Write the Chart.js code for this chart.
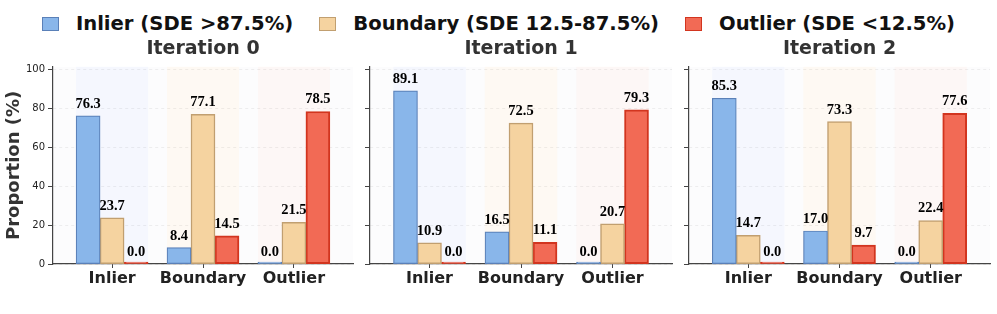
<!DOCTYPE html>
<html>
<head>
<meta charset="utf-8">
<script src="https://cdn.jsdelivr.net/npm/chart.js@4.4.1/dist/chart.umd.min.js"></script>
<style>
  html, body { margin: 0; padding: 0; background: #ffffff; }
  body { width: 997px; height: 314px; position: relative; overflow: hidden; font-family: 'DejaVu Sans', sans-serif; }
  .legend { position: absolute; top: 12px; left: 0; width: 997px; display: flex; justify-content: center; align-items: center; }
  .legend-item { display: flex; align-items: center; margin: 0 13px; }
  .legend-box { width: 15px; height: 12px; margin-right: 17px; }
  .legend-text { font-weight: bold; font-size: 19.6px; color: #111; white-space: nowrap; }
  .panel { position: absolute; top: 36px; height: 278px; }
</style>
</head>
<body>
<div class="legend" id="legend"></div>
<div class="panel" style="left:0px;width:360px"><canvas id="c0"></canvas></div>
<div class="panel" style="left:355px;width:325px"><canvas id="c1"></canvas></div>
<div class="panel" style="left:674px;width:323px"><canvas id="c2"></canvas></div>
<script>
const categories = ['Inlier', 'Boundary', 'Outlier'];
const seriesLabels = ['Inlier (SDE >87.5%)', 'Boundary (SDE 12.5-87.5%)', 'Outlier (SDE <12.5%)'];
const iterations = ['Iteration 0', 'Iteration 1', 'Iteration 2'];
const yTicks = [0, 20, 40, 60, 80, 100];

// one row per iteration, one value per true-category group
const inlierValues = [
    [76.3, 8.4, 0.0],
    [89.1, 16.5, 0.0],
    [85.3, 17.0, 0.0]
];
const boundaryValues = [
    [23.7, 77.1, 21.5],
    [10.9, 72.5, 20.7],
    [14.7, 73.3, 22.4]
];
const outlierValues = [
    [0.0, 14.5, 78.5],
    [0.0, 11.1, 79.3],
    [0.0, 9.7, 77.6]
];

const fills = ['#89b6ea', '#f5d3a0', '#f26a55'];
const borders = ['#5a80b8', '#c19f70', '#d2351f'];
const borderWidths = [1.2, 1.5, 2];
const bandColors = ['#f5f7fe', '#fef9f3', '#fdf7f6'];

Chart.defaults.font.family = "'DejaVu Sans', sans-serif";
Chart.defaults.animation = false;

// html legend
const legendEl = document.getElementById('legend');
seriesLabels.forEach((label, i) => {
    const item = document.createElement('div');
    item.className = 'legend-item';
    item.innerHTML = `<span class="legend-box" style="background:${fills[i]};border:1.5px solid ${borders[i]}"></span><span class="legend-text">${label}</span>`;
    legendEl.appendChild(item);
});

const bandPlugin = {
    id: 'bands',
    beforeDraw(chart) {
        const { ctx, chartArea, scales } = chart;
        ctx.save();
        ctx.fillStyle = '#fcfcfd';
        ctx.fillRect(chartArea.left, chartArea.top, chartArea.right - chartArea.left, chartArea.bottom - chartArea.top);
        categories.forEach((c, i) => {
            const x0 = scales.x.getPixelForValue(i - 0.396);
            const x1 = scales.x.getPixelForValue(i + 0.396);
            ctx.fillStyle = bandColors[i];
            ctx.fillRect(x0, chartArea.top, x1 - x0, chartArea.bottom - chartArea.top);
        });
        ctx.restore();
    }
};

const valueLabelPlugin = {
    id: 'valueLabels',
    afterDatasetsDraw(chart) {
        const { ctx, scales } = chart;
        ctx.save();
        ctx.font = "bold 14.5px 'Liberation Serif', 'Times New Roman', serif";
        ctx.fillStyle = '#000';
        ctx.textAlign = 'center';
        ctx.textBaseline = 'alphabetic';
        chart.data.datasets.forEach((ds, di) => {
            const meta = chart.getDatasetMeta(di);
            meta.data.forEach((bar, i) => {
                const v = ds.data[i].y;
                const y = scales.y.getPixelForValue(v);
                ctx.fillText(v.toFixed(1), bar.x, y - 8);
            });
        });
        ctx.restore();
    }
};

function toPoints(arr) {
    return arr.map((v, i) => ({ x: i, y: v }));
}

function drawPanel(canvasId, k) {
    const first = k === 0;
    const rightPad = [7, 8, 7][k];
    const series = [inlierValues[k], boundaryValues[k], outlierValues[k]];
    new Chart(document.getElementById(canvasId).getContext('2d'), {
        type: 'bar',
        data: {
            datasets: series.map((vals, i) => ({
                label: seriesLabels[i],
                data: toPoints(vals),
                backgroundColor: fills[i],
                borderColor: borders[i],
                borderWidth: borderWidths[i],
                borderSkipped: false,
                barThickness: 24,
                minBarLength: 2
            }))
        },
        options: {
            responsive: true,
            maintainAspectRatio: false,
            devicePixelRatio: 1,
            layout: { padding: { left: 0, right: rightPad, top: 0, bottom: 0 } },
            plugins: {
                legend: { display: false },
                tooltip: { enabled: false },
                title: {
                    display: true,
                    text: iterations[k],
                    fullSize: false,
                    color: '#333',
                    font: { size: 19, weight: 'bold' },
                    padding: { top: 2, bottom: 6 }
                }
            },
            scales: {
                x: {
                    type: 'linear',
                    min: -0.65,
                    max: 2.65,
                    offset: false,
                    afterBuildTicks: axis => { axis.ticks = categories.map((c, i) => ({ value: i })); },
                    afterFit: axis => { axis.height = 50; },
                    ticks: {
                        callback: v => categories[v],
                        autoSkip: false,
                        maxRotation: 0,
                        padding: 1,
                        color: '#222',
                        font: { size: 16, weight: 'bold' }
                    },
                    grid: { display: true, drawOnChartArea: false, offset: false, tickLength: 4, tickColor: '#444', tickWidth: 1 },
                    border: { display: true, color: '#444', width: 1.2 }
                },
                y: {
                    min: 0,
                    max: 101.5,
                    afterBuildTicks: axis => { axis.ticks = yTicks.map(v => ({ value: v })); },
                    afterFit: axis => { axis.width = first ? 53 : 15; },
                    ticks: {
                        display: first,
                        padding: 3,
                        color: '#222',
                        font: { size: 10 }
                    },
                    title: {
                        display: first,
                        text: 'Proportion (%)',
                        color: '#333',
                        font: { size: 18, weight: 'bold' },
                        padding: { top: 4, bottom: 0 }
                    },
                    grid: { color: 'rgba(0,0,0,0.08)', lineWidth: 0.8, tickLength: 5, tickColor: '#444', tickWidth: 1 },
                    border: { display: true, color: '#444', width: 1.2, dash: [3, 3] }
                }
            }
        },
        plugins: [bandPlugin, valueLabelPlugin]
    });
}

drawPanel('c0', 0);
drawPanel('c1', 1);
drawPanel('c2', 2);
</script>
</body>
</html>
